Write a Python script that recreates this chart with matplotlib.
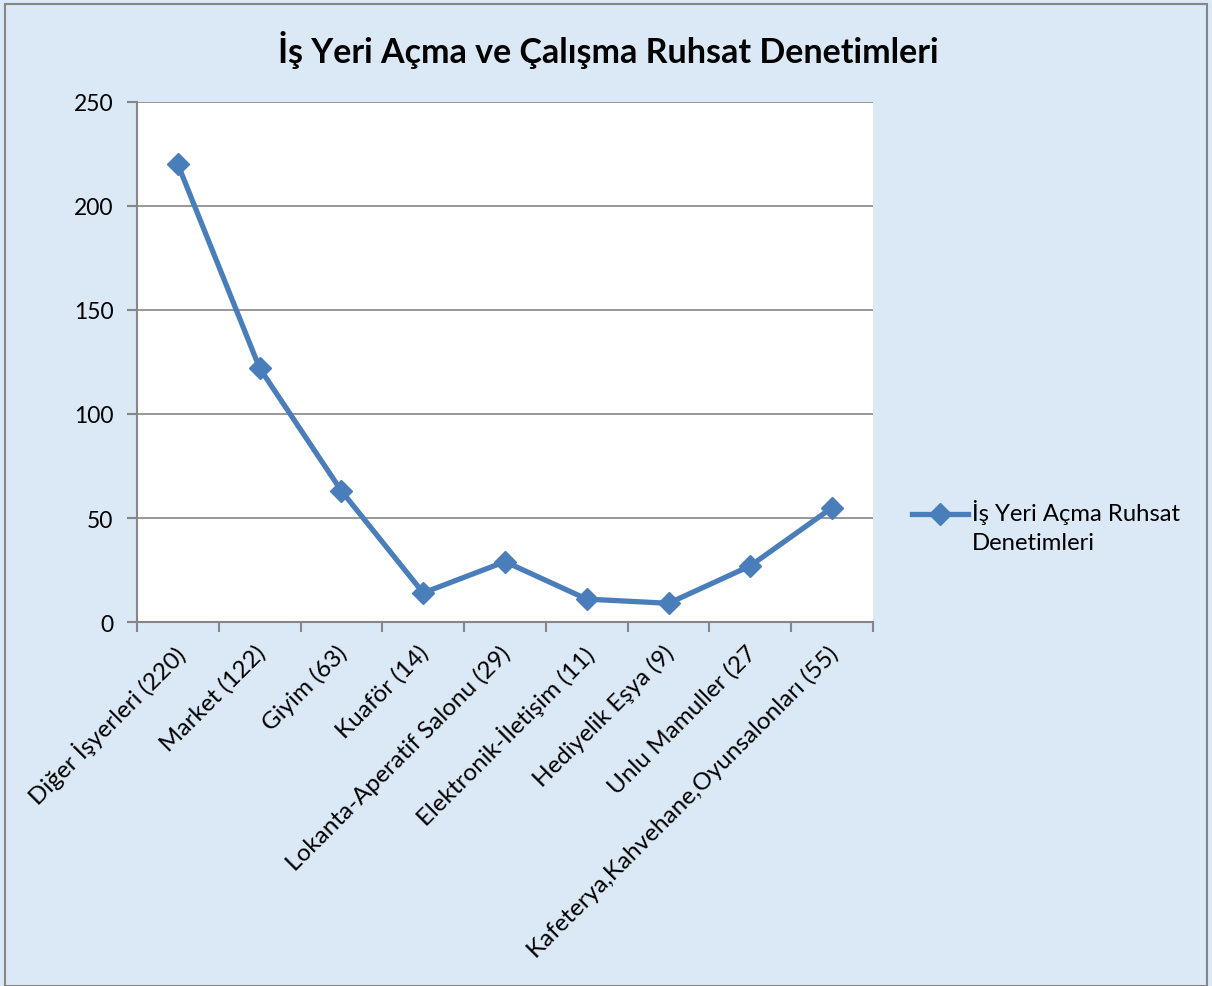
import matplotlib
matplotlib.use("Agg")
import matplotlib.pyplot as plt
from matplotlib.patches import Rectangle
from matplotlib.lines import Line2D

categories = ["Diğer İşyerleri (220)", "Market (122)", "Giyim (63)", "Kuaför (14)",
              "Lokanta-Aperatif Salonu (29)", "Elektronik-İletişim (11)",
              "Hediyelik Eşya (9)", "Unlu Mamuller (27",
              "Kafeterya,Kahvehane,Oyunsalonları (55)"]
values = [220, 122, 63, 14, 29, 11, 9, 27, 55]
yticks = [0, 50, 100, 150, 200, 250]
series_name = "İş Yeri Açma Ruhsat\nDenetimleri"
title = "İş Yeri Açma ve Çalışma Ruhsat Denetimleri"

plt.rcParams['font.family'] = ['Lato', 'DejaVu Sans']
bg = "#dbe8f5"
blue = "#4a7ebb"
gray = "#868686"

fig = plt.figure(figsize=(12.12, 9.87), dpi=100)
fig.patch.set_facecolor(bg)
fig.patches.append(Rectangle((5/1212, 0), 1 - 10/1212, 1 - 5/987, transform=fig.transFigure,
                             fill=False, edgecolor=gray, lw=1.5))

ax = fig.add_axes([137/1212, 1 - 623/987, 736/1212, 520/987])
ax.set_facecolor("white")
x = list(range(len(values)))
ax.plot(x, values, color=blue, lw=3.8, marker="D", markersize=11,
        markerfacecolor=blue, markeredgecolor=blue)
ax.set_xlim(-0.5, len(values) - 0.5)
ax.set_ylim(0, 250)
ax.set_yticks(yticks)
ax.set_yticklabels([str(t) for t in yticks], fontsize=16.5)
ax.yaxis.grid(True, color=gray, lw=1.2)
ax.set_axisbelow(True)
for s in ["top", "right"]:
    ax.spines[s].set_visible(False)
for s in ["left", "bottom"]:
    ax.spines[s].set_color(gray)
    ax.spines[s].set_linewidth(1.5)
ax.tick_params(axis="y", length=7, color=gray, width=1.5, pad=10)
ax.set_xticks([i - 0.5 for i in range(len(values) + 1)])
ax.set_xticklabels([])
ax.tick_params(axis="x", length=7, color=gray, width=1.5)
for i, c in enumerate(categories):
    ax.annotate(c, xy=(i, 0), xycoords=("data", "axes fraction"),
                xytext=(-4, -14), textcoords="offset points",
                rotation=45, ha="right", va="top", rotation_mode="anchor",
                fontsize=17.5)

fig.text(608/1212, 1 - 50/987, title, fontsize=24.5, fontweight="bold",
         ha="center", va="center")

# legend (line+marker sample and label)
fig.lines.append(Line2D([912/1212, 968/1212], [1 - 515/987, 1 - 515/987],
                        transform=fig.transFigure, color=blue, lw=3.8))
fig.lines.append(Line2D([940/1212], [1 - 515/987], transform=fig.transFigure,
                        color=blue, marker="D", markersize=11, lw=0))
fig.text(972/1212, 1 - 500/987, series_name, fontsize=17.2, ha="left",
         va="top", linespacing=1.45, transform=fig.transFigure)

fig.savefig("out.png", dpi=100, facecolor=bg)
